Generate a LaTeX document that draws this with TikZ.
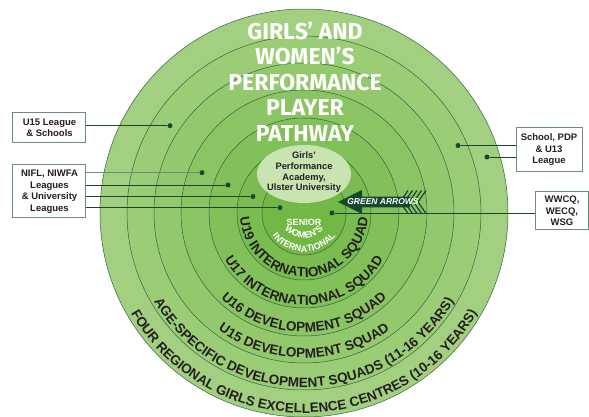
\documentclass[tikz,border=0pt]{standalone}
\usepackage{fontspec}
\setmainfont{Liberation Sans}
\newfontfamily\titlefont[Ligatures=TeX]{Fira Sans}
\usetikzlibrary{decorations.text}

\definecolor{ringout}{RGB}{163,208,128}
\definecolor{ringin}{RGB}{114,184,70}
\definecolor{ringline}{RGB}{52,100,62}
\definecolor{pathgreen}{RGB}{22,72,48}
\definecolor{boxline}{RGB}{104,142,122}
\definecolor{inktext}{RGB}{35,31,32}
\definecolor{academy}{RGB}{200,228,176}

\newcommand{\ringfont}{\color{inktext}\bfseries\fontsize{13.5}{14}\selectfont}
\newcommand{\seniorfont}{\color{white}\bfseries\fontsize{9}{10}\selectfont}

\begin{document}
\begin{tikzpicture}[x=1pt, y=1pt,
  ring/.style={draw=ringline, line width=0.5pt},
  ringlabel/.style={decorate, decoration={text along path, text={#1}, text align=center}},
  titletext/.style={text=white, align=center, inner sep=0pt, font=\titlefont\bfseries\fontsize{23}{25.5}\selectfont},
  academytext/.style={text=inktext, align=center, inner sep=0pt, font=\bfseries\fontsize{9.3}{10.7}\selectfont},
  sidebox/.style={draw=boxline, line width=1pt, fill=white, align=center, inner sep=0pt, text=inktext, font=\bfseries\fontsize{9.5}{11.5}\selectfont},
  dot/.style={circle, fill=pathgreen, inner sep=0pt, minimum size=5pt},
  link/.style={draw=pathgreen, line width=0.9pt},
  arrowtext/.style={text=white, inner sep=0pt, font=\bfseries\itshape\fontsize{8.5}{9}\selectfont}
]
\useasboundingbox (-304,-204) rectangle (285,213);

% rings, outside in
\foreach \r/\p in {204/0, 177/17, 150/33, 123/50, 95/67, 67/83, 42/100}
  \filldraw[ring, fill=ringin!\p!ringout] (0,0) circle[radius=\r pt];

% academy
\fill[academy] (0,39) ellipse[x radius=47pt, y radius=29pt];
\node[academytext] (academy) at (0,40.5) {Girls’\\Performance\\Academy,\\Ulster University};

% title
\node[titletext] (title) at (1,131.5) {GIRLS’ AND\\WOMEN’S\\PERFORMANCE\\PLAYER\\PATHWAY};

% senior
\node[inner sep=0pt, text=white, font=\bfseries\fontsize{9}{10}\selectfont] (senior) at (0,-9) {SENIOR};
\path[ringlabel={|\seniorfont|WOMEN’S}] (150:25pt) arc[start angle=150, end angle=390, radius=25pt];
\path[ringlabel={|\seniorfont|INTERNATIONAL}] (150:39pt) arc[start angle=150, end angle=390, radius=39pt];

% squads
\path[ringlabel={|\ringfont|U19 INTERNATIONAL SQUAD}] (150:64pt) arc[start angle=150, end angle=390, radius=64pt];
\path[ringlabel={|\ringfont|U17 INTERNATIONAL SQUAD}] (150:92pt) arc[start angle=150, end angle=390, radius=92pt];
\path[ringlabel={|\ringfont|U16 DEVELOPMENT SQUAD}] (150:119pt) arc[start angle=150, end angle=390, radius=119pt];
\path[ringlabel={|\ringfont|U15 DEVELOPMENT SQUAD}] (150:145pt) arc[start angle=150, end angle=390, radius=145pt];
\path[ringlabel={|\ringfont|AGE-SPECIFIC DEVELOPMENT SQUADS (11-16 YEARS)}] (150:174pt) arc[start angle=150, end angle=390, radius=174pt];
\path[ringlabel={|\ringfont|FOUR REGIONAL GIRLS EXCELLENCE CENTRES (10-16 YEARS)}] (150:200pt) arc[start angle=150, end angle=390, radius=200pt];

% green arrows
\fill[pathgreen] (34,11) -- (58,23) -- (58,16.3) -- (106,16.3) -- (106,5.7) -- (58,5.7) -- (58,-1) -- cycle;
\foreach \i in {0,...,4}
  \draw[pathgreen, line width=1.2pt] ({96+4.5*\i+8},22.5) -- ({96+4.5*\i},11) -- ({96+4.5*\i+8},-0.5);
\node[arrowtext] (greenarrows) at (79,11.3) {GREEN ARROWS};

% side boxes
\node[sidebox, minimum width=73pt, minimum height=30pt] (u15) at (-254.5,85) {U15 League\\\& Schools};
\node[sidebox, minimum width=73pt, minimum height=53pt] (nifl) at (-254.5,21.5) {NIFL, NIWFA\\Leagues\\\& University\\Leagues};
\node[sidebox, minimum width=66pt, minimum height=44pt] (pdp) at (245,63) {School, PDP\\\& U13\\League};
\node[sidebox, minimum width=53pt, minimum height=38pt] (wwcq) at (258,2) {WWCQ,\\WECQ,\\WSG};

% dots
\node[dot] (du15) at (-134,87.3) {};
\node[dot] (dnifla) at (-102,40.3) {};
\node[dot] (dniflb) at (-76,28) {};
\node[dot] (dniflc) at (-51,16.5) {};
\node[dot] (dnifld) at (-24,5.3) {};
\node[dot] (dpdpa) at (154,67.5) {};
\node[dot] (dpdpb) at (183,56) {};
\node[dot] (dwwcq) at (28,0) {};

% links
\draw[link] (u15.east |- du15) -- (du15);
\draw[link, draw=boxline] (nifl.east |- dnifla) -- (dnifla);
\draw[link] (nifl.east |- dniflb) -- (dniflb);
\draw[link] (nifl.east |- dniflc) -- (dniflc);
\draw[link] (nifl.east |- dnifld) -- (dnifld);
\draw[link] (pdp.west |- dpdpa) -- (dpdpa);
\draw[link] (pdp.west |- dpdpb) -- (dpdpb);
\draw[link] (wwcq.west |- dwwcq) -- (dwwcq);
\end{tikzpicture}
\end{document}
